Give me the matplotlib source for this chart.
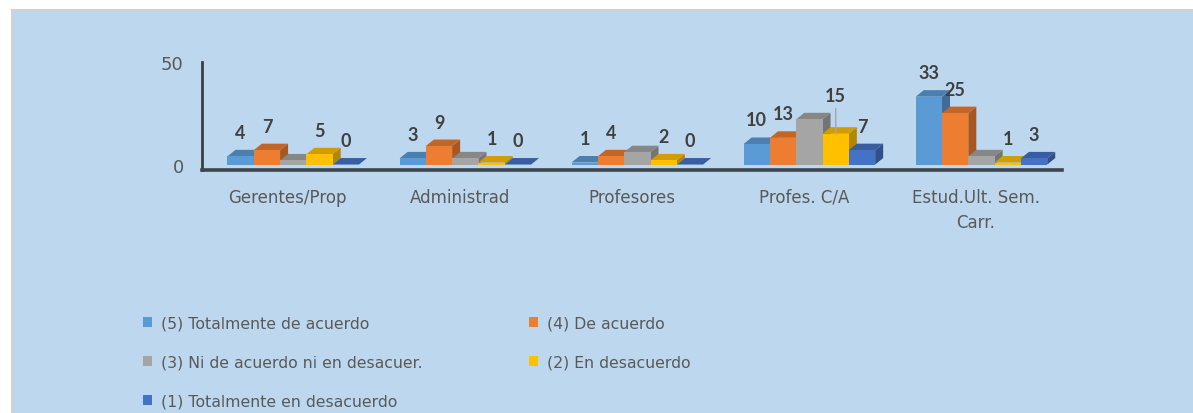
import matplotlib
matplotlib.use('Agg')
import matplotlib.pyplot as plt
from matplotlib.patches import Polygon, Rectangle, Patch
from matplotlib.colors import to_rgb

# ---------------- data ----------------
categories = ['Gerentes/Prop', 'Administrad', 'Profesores', 'Profes. C/A',
              'Estud.Ult. Sem.\nCarr.']
series_names = ['(5) Totalmente de acuerdo', '(4) De acuerdo',
                '(3) Ni de acuerdo ni en desacuer.', '(2) En desacuerdo',
                '(1) Totalmente en desacuerdo']
totalmente_acuerdo = [4, 3, 1, 10, 33]
de_acuerdo = [7, 9, 4, 13, 25]
ni_acuerdo = [2, 3, 6, 22, 4]
en_desacuerdo = [5, 1, 2, 15, 1]
totalmente_desacuerdo = [0, 0, 0, 7, 3]
series_values = [totalmente_acuerdo, de_acuerdo, ni_acuerdo,
                 en_desacuerdo, totalmente_desacuerdo]
series_colors = ['#5B9BD5', '#ED7D31', '#A5A5A5', '#FFC000', '#4472C4']
show_labels = [True, True, False, True, True]   # gray series has no labels
y_ticks = [0, 50]
y_tick_labels = ['0', '50']

# ---------------- style / layout ----------------
plt.rcParams['font.family'] = ['DejaVu Sans']
W, H = 1193, 414
fig = plt.figure(figsize=(W / 100, H / 100), dpi=100)
fig.patch.set_facecolor('white')
fig.add_artist(Rectangle((12 / W, -0.05), 1.1, (H - 11) / H + 0.05,
                         transform=fig.transFigure, facecolor='#BDD7EE',
                         edgecolor='#D2D2D2', lw=1.5, zorder=0))

ax_l, ax_r, ax_b, ax_t = 201.7, 1062.0, 170.7, 62.7
ax = fig.add_axes([ax_l / W, (H - ax_b) / H, (ax_r - ax_l) / W, (ax_b - ax_t) / H])
ax.patch.set_alpha(0)
xlim = (-0.5, len(categories) - 0.5)
ylim = (-2.5, 50)
ax.set_xlim(*xlim)
ax.set_ylim(*ylim)
ppx = (ax_r - ax_l) / (xlim[1] - xlim[0])    # pixels per x unit
ppy = (ax_b - ax_t) / (ylim[1] - ylim[0])    # pixels per y unit

bar_w = 26.3 / ppx
shift = 5.5 / ppx
dx = 8.0 / ppx
dy = 6.5 / ppy


def shade(c, f):
    r, g, b = to_rgb(c)
    return (r * f, g * f, b * f)


label_lift = {(3, 3): 38}   # (series, category) -> px above bar top
default_lift = 24

for j, (vals, col) in enumerate(zip(series_values, series_colors)):
    xs = [i + shift + (j - 2) * bar_w for i in range(len(categories))]
    zb = 2 + j * 0.1
    ax.bar(xs, vals, width=bar_w, color=col, zorder=zb + 0.02, linewidth=0)
    for i, (xc, v) in enumerate(zip(xs, vals)):
        x0, x1 = xc - bar_w / 2, xc + bar_w / 2
        side = Polygon([(x1, 0), (x1 + dx, dy), (x1 + dx, v + dy), (x1, v)],
                       closed=True, facecolor=shade(col, 0.70), lw=0, zorder=zb)
        top = Polygon([(x0, v), (x1, v), (x1 + dx, v + dy), (x0 + dx, v + dy)],
                      closed=True, facecolor=shade(col, 0.82), lw=0, zorder=zb + 0.01)
        ax.add_patch(side)
        ax.add_patch(top)
        if show_labels[j]:
            lift = label_lift.get((j, i), default_lift)
            kw = {}
            if (j, i) in label_lift:
                kw['arrowprops'] = dict(arrowstyle='-', color='#A6A6A6', lw=1,
                                        shrinkA=1, shrinkB=0)
            ax.annotate(str(v), xy=(xc, v), xytext=(0, lift * 0.72),
                        textcoords='offset points', ha='center', va='center',
                        fontsize=13, fontweight='bold', color='#404040',
                        family=['Lato', 'DejaVu Sans'], zorder=10, **kw)

# axes styling
for s in ['top', 'right']:
    ax.spines[s].set_visible(False)
ax.spines['left'].set_color('#3A3F45')
ax.spines['left'].set_linewidth(2)
ax.spines['bottom'].set_color('#3B4550')
ax.spines['bottom'].set_linewidth(2.6)
ax.set_xticks(range(len(categories)))
ax.set_xticklabels(categories, linespacing=1.5)
ax.set_yticks(y_ticks)
ax.set_yticklabels(y_tick_labels)
ax.tick_params(axis='both', length=0)
ax.tick_params(axis='x', labelsize=12, labelcolor='#595959', pad=13)
ax.tick_params(axis='y', labelsize=13, labelcolor='#595959', pad=13)

# legend (row-wise layout with two columns)
handles = [Patch(facecolor=c, edgecolor='none') for c in series_colors]
leg_kw = dict(frameon=False, fontsize=11.3, handlelength=0.6, handleheight=0.6,
              handletextpad=0.55, labelspacing=1.52, borderpad=0,
              borderaxespad=0, loc='upper left', labelcolor='#595959')
col1 = [0, 2, 4]
col2 = [1, 3]
top_y = (H - 317) / H
fig.legend([handles[k] for k in col1], [series_names[k] for k in col1],
           bbox_to_anchor=(143 / W, top_y), bbox_transform=fig.transFigure, **leg_kw)
fig.legend([handles[k] for k in col2], [series_names[k] for k in col2],
           bbox_to_anchor=(529 / W, top_y), bbox_transform=fig.transFigure, **leg_kw)

fig.savefig('out.png', dpi=100, facecolor=fig.get_facecolor())
